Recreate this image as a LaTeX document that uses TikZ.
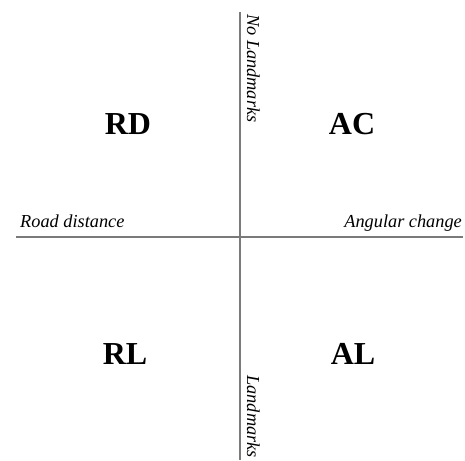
\documentclass[tikz,border=0pt]{standalone}
\usepackage{fontspec}
\setmainfont{Liberation Serif}
\usetikzlibrary{positioning}

\begin{document}
\begin{tikzpicture}[x=1pt, y=-1pt,
  axis/.style={draw=black!52, line width=2.8pt},
  quad/.style={font=\fontsize{32}{34}\selectfont\bfseries, inner sep=0pt, anchor=base},
  axislabel/.style={font=\fontsize{18.3}{20}\selectfont\itshape, inner sep=0pt}
]
\useasboundingbox (0,0) rectangle (465,460);

% --- Osie ---
\coordinate (top) at (240,12);
\coordinate (bottom) at (240,460);
\coordinate (left) at (16,237);
\coordinate (right) at (463,237);
\draw[axis] (top) -- (bottom);
\draw[axis] (left) -- (right);

% --- Opisy osi ---
\node[axislabel, anchor=base west] (road) at (20,227) {Road distance};
\node[axislabel, anchor=base east] (angular) at (462,227) {Angular change};
\node[axislabel, rotate=-90, anchor=base west] (nolm) at (247,14) {No Landmarks};
\node[axislabel, rotate=-90, anchor=base east] (lm) at (247,458) {Landmarks};

% --- Ćwiartki ---
\node[quad] (rd) at (128,134) {RD};
\node[quad] (ac) at (352,134) {AC};
\node[quad] (rl) at (125,364) {RL};
\node[quad] (al) at (353,364) {AL};

\end{tikzpicture}
\end{document}
